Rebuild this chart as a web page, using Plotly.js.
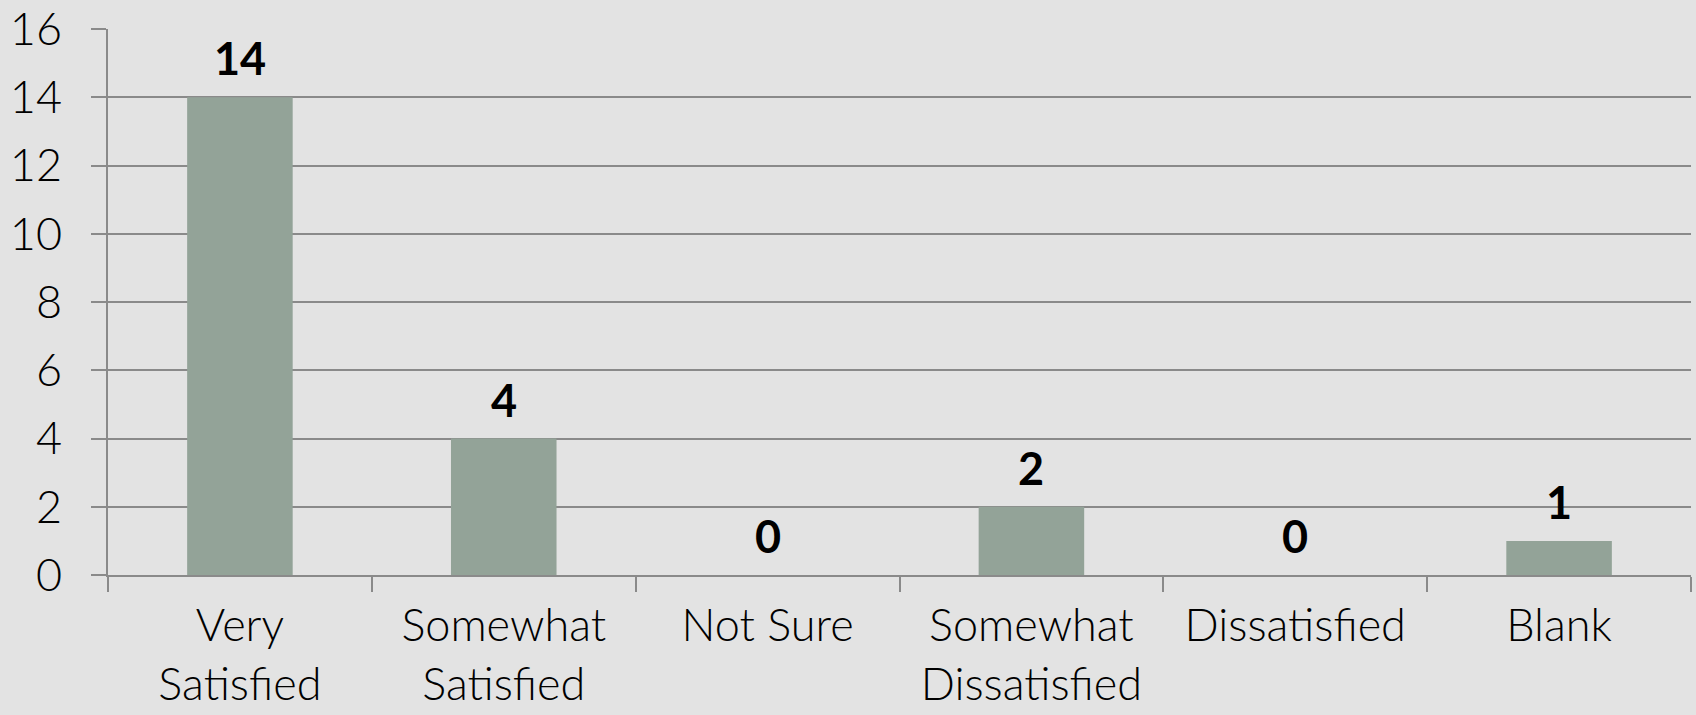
<!DOCTYPE html>
<html>
<head>
<meta charset="utf-8">
<script src="https://cdn.plot.ly/plotly-3.0.1.min.js"></script>
<style>
html,body{margin:0;padding:0;background:#e3e3e3;}
#chart{width:1696px;height:715px;}
</style>
</head>
<body>
<div id="chart"></div>
<script>
const categories = ["Very<br>Satisfied", "Somewhat<br>Satisfied", "Not Sure", "Somewhat<br>Dissatisfied", "Dissatisfied", "Blank"];
const counts = [14, 4, 0, 2, 0, 1];
const yTicks = [0, 2, 4, 6, 8, 10, 12, 14, 16];

const fontFamily = "Lato, 'Liberation Sans', sans-serif";

const trace = {
  type: "bar",
  x: categories,
  y: counts,
  marker: {color: "#93a398"},
  hoverinfo: "none"
};

const valueLabels = categories.map((c, i) => ({
  x: c,
  y: counts[i],
  xref: "x",
  yref: "y",
  text: String(counts[i]),
  showarrow: false,
  yanchor: "bottom",
  xanchor: "center",
  yshift: 10,
  font: {family: fontFamily, size: 45, color: "#000", weight: 700}
}));

const layout = {
  width: 1696,
  height: 715,
  margin: {l: 108, r: 5, t: 29, b: 140},
  paper_bgcolor: "#e3e3e3",
  plot_bgcolor: "#e3e3e3",
  bargap: 0.6,
  showlegend: false,
  font: {family: fontFamily, color: "#000"},
  annotations: valueLabels,
  xaxis: {
    type: "category",
    showline: true,
    linecolor: "#8a8a8a",
    linewidth: 2,
    ticks: "outside",
    tickson: "boundaries",
    ticklen: 15,
    tickwidth: 2,
    tickcolor: "#8a8a8a",
    showgrid: false,
    tickfont: {family: fontFamily, size: 45, color: "#000", weight: 300},
    ticklabelstandoff: 10,
    automargin: false
  },
  yaxis: {
    range: [0, 16],
    tickvals: yTicks,
    ticktext: yTicks.map(String),
    showline: true,
    linecolor: "#8a8a8a",
    linewidth: 2,
    ticks: "outside",
    ticklen: 15,
    tickwidth: 2,
    tickcolor: "#8a8a8a",
    showgrid: true,
    gridcolor: "#8a8a8a",
    gridwidth: 2,
    zeroline: false,
    tickfont: {family: fontFamily, size: 45, color: "#000", weight: 300},
    ticklabelstandoff: 20,
    automargin: false
  }
};

Plotly.newPlot("chart", [trace], layout, {displayModeBar: false, staticPlot: true});
</script>
</body>
</html>
